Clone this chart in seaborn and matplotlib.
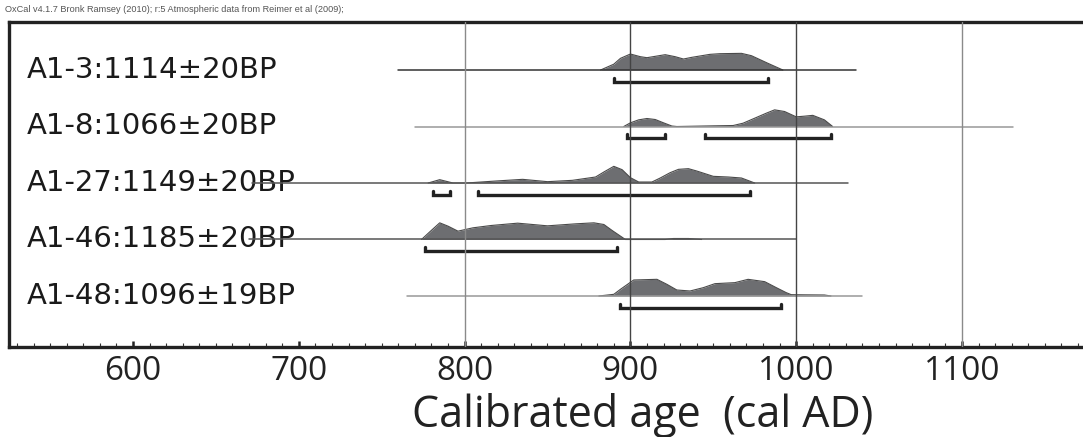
import numpy as np
import matplotlib
matplotlib.use("Agg")
import matplotlib.pyplot as plt
import seaborn as sns

# sample labels, top to bottom
labels = ["A1-3:1114±20BP", "A1-8:1066±20BP", "A1-27:1149±20BP",
          "A1-46:1185±20BP", "A1-48:1096±19BP"]

# extent of the thin baseline of each sample (cal AD)
line_start = [760, 770, 672, 670, 765]
line_end = [1036, 1131, 1031, 1000, 1040]

# 95.4% ranges (cal AD), one list of (from, to) per sample
ranges = [[(890, 983)],
          [(898, 921), (945, 1021)],
          [(781, 791), (808, 972)],
          [(776, 892)],
          [(894, 991)]]

# probability distributions (relative height)
a3_years = [882, 890, 894, 900, 906, 910, 921, 927, 932, 937, 948, 954, 967, 973, 983, 992]
a3_dens = [0, 0.35, 0.7, 0.96, 0.8, 0.74, 0.92, 0.8, 0.66, 0.76, 0.94, 0.98, 1.0, 0.86, 0.4, 0]

a8_years = [896, 900, 905, 910, 915, 920, 925, 928, 939, 950, 962, 968, 975, 982, 987, 993, 1000, 1005, 1010, 1017, 1022]
a8_dens = [0, 0.22, 0.4, 0.48, 0.42, 0.22, 0.03, 0, 0.02, 0.04, 0.06, 0.2, 0.5, 0.8, 1.0, 0.9, 0.58, 0.62, 0.67, 0.4, 0]

a27_years = [778, 785, 793, 801, 810, 819, 835, 850, 865, 879, 884, 890, 895, 900, 905, 913, 918, 924, 929, 935, 940, 950, 959, 967, 975]
a27_dens = [0, 0.2, 0, 0, 0.06, 0.12, 0.22, 0.08, 0.16, 0.36, 0.66, 1.0, 0.8, 0.32, 0.06, 0.06, 0.3, 0.62, 0.82, 0.86, 0.72, 0.4, 0.36, 0.3, 0]

a46_years = [774, 780, 785, 790, 796, 805, 816, 832, 850, 867, 878, 884, 889, 897, 921, 926, 935, 943]
a46_dens = [0, 0.55, 1.0, 0.8, 0.5, 0.7, 0.84, 0.98, 0.82, 0.94, 1.0, 0.9, 0.54, 0, 0, 0.06, 0.06, 0]

a48_years = [881, 890, 894, 902, 916, 922, 928, 936, 944, 951, 963, 971, 981, 988, 994, 997, 1005, 1017, 1021]
a48_dens = [0, 0.1, 0.4, 0.96, 1.0, 0.7, 0.36, 0.3, 0.5, 0.74, 0.8, 1.0, 0.86, 0.5, 0.2, 0.08, 0.07, 0.06, 0]

dens_years = [a3_years, a8_years, a27_years, a46_years, a48_years]
dens_vals = [a3_dens, a8_dens, a27_dens, a46_dens, a48_dens]

line_colors = ["#333333", "#999999", "#555555", "#555555", "#999999"]
grid_years = [800, 900, 1000, 1100]
grid_colors = ["#8a8a8a", "#444444", "#444444", "#8a8a8a"]

sns.set_style("white")
plt.rcParams["font.family"] = ["Liberation Sans", "DejaVu Sans"]

fig = plt.figure(figsize=(10.83, 4.37), dpi=100)
ax = fig.add_axes([9 / 1083, 1 - 347 / 437, 1 - 9 / 1083, 325 / 437])

H = 0.295   # peak height in row units
off = 0.21  # range bars below baseline
wk = 0.07   # bracket end height

for i, lab in enumerate(labels):
    ax.text(536, i + 0.14, lab, fontsize=21, family="DejaVu Sans",
            color="#1a1a1a", va="baseline", zorder=1)
    ax.plot([line_start[i], line_end[i]], [i, i], color=line_colors[i], lw=1.1, zorder=3)
    yrs = np.array(dens_years[i])
    top = i - np.array(dens_vals[i]) * H
    ax.fill_between(yrs, i, top, color="#6d6e71", lw=0, zorder=2)
    sns.lineplot(x=yrs, y=top, ax=ax, color="#4a4a4a", lw=0.8, sort=False,
                 estimator=None, zorder=2)
    for a, b in ranges[i]:
        y = i + off
        ax.plot([a, a, b, b], [y - wk, y, y, y - wk], color="#222222", lw=2.4,
                solid_joinstyle="miter", zorder=3)

for g, c in zip(grid_years, grid_colors):
    ax.axvline(g, color=c, lw=1.0, zorder=4)

ax.set_xlim(525.2, 1173)
ax.set_ylim(4.903, -0.85)
ax.set_yticks([])
ax.set_xticks(range(600, 1101, 100))
ax.set_xticks(range(530, 1171, 10), minor=True)
ax.tick_params(axis="x", which="both", bottom=True, top=False)
ax.tick_params(axis="x", which="major", direction="in", length=4.5, width=1.8,
               color="#222222", pad=6, labelsize=24, labelcolor="#222222")
ax.tick_params(axis="x", which="minor", direction="in", length=2.8, width=0.8,
               color="#333333")
for t in ax.get_xticklabels():
    t.set_fontfamily("Open Sans")

for s in ["left", "top", "bottom"]:
    ax.spines[s].set_linewidth(2.4)
    ax.spines[s].set_color("#222222")
ax.spines["right"].set_visible(False)

fig.text(643 / 1083, 1 - 427 / 437, "Calibrated age  (cal AD)", fontsize=31,
         family="Open Sans", color="#222222", ha="center", va="baseline")
fig.text(5 / 1083, 1 - 12 / 437,
         "OxCal v4.1.7 Bronk Ramsey (2010); r:5 Atmospheric data from Reimer et al (2009);",
         fontsize=6.6, color="#555555", va="baseline")

fig.savefig("out.png", dpi=100)
